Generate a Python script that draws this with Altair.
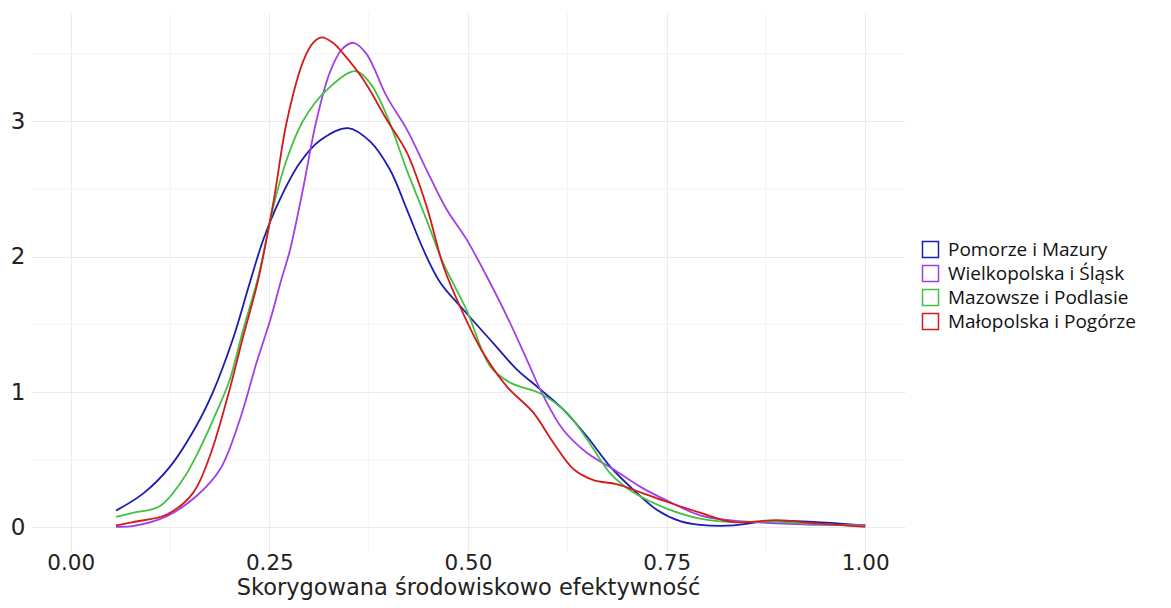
import altair as alt
import pandas as pd

regions = ["Pomorze i Mazury", "Wielkopolska i Śląsk", "Mazowsze i Podlasie", "Małopolska i Pogórze"]
colors = ["#1c1cb0", "#a040e6", "#45c045", "#d41a1a"]

pom_x = [0.057, 0.091, 0.125, 0.158, 0.179, 0.204, 0.225, 0.242, 0.263, 0.288, 0.314, 0.349, 0.377, 0.402,
         0.423, 0.444, 0.465, 0.494, 0.532, 0.561, 0.591, 0.620, 0.650, 0.679, 0.708, 0.738, 0.767, 0.792,
         0.834, 0.876, 0.939, 1.0]
pom_y = [0.125, 0.25, 0.45, 0.75, 1.0, 1.39, 1.80, 2.12, 2.42, 2.69, 2.86, 2.95, 2.85, 2.64,
         2.35, 2.05, 1.81, 1.61, 1.36, 1.17, 1.02, 0.87, 0.67, 0.45, 0.28, 0.13, 0.047, 0.02,
         0.015, 0.046, 0.04, 0.015]

wlk_x = [0.057, 0.078, 0.121, 0.158, 0.188, 0.213, 0.234, 0.251, 0.265, 0.276, 0.293, 0.309, 0.326, 0.341,
         0.356, 0.372, 0.398, 0.423, 0.448, 0.473, 0.498, 0.524, 0.549, 0.574, 0.595, 0.620, 0.650, 0.683,
         0.717, 0.750, 0.792, 0.834, 0.876, 0.939, 1.0]
wlk_y = [0.005, 0.01, 0.084, 0.231, 0.43, 0.80, 1.22, 1.53, 1.83, 2.05, 2.52, 3.00, 3.36, 3.53,
         3.58, 3.50, 3.18, 2.94, 2.64, 2.35, 2.13, 1.85, 1.56, 1.24, 0.97, 0.72, 0.55, 0.43,
         0.30, 0.20, 0.09, 0.05, 0.035, 0.02, 0.02]

maz_x = [0.057, 0.078, 0.112, 0.141, 0.162, 0.183, 0.200, 0.217, 0.236, 0.255, 0.272, 0.293, 0.322, 0.358,
         0.377, 0.398, 0.423, 0.448, 0.469, 0.498, 0.528, 0.553, 0.591, 0.624, 0.650, 0.679, 0.708, 0.750,
         0.792, 0.834, 0.876, 0.939, 1.0]
maz_y = [0.079, 0.108, 0.157, 0.354, 0.576, 0.846, 1.09, 1.46, 1.85, 2.37, 2.72, 3.01, 3.23, 3.37,
         3.28, 3.04, 2.64, 2.27, 1.95, 1.61, 1.19, 1.07, 0.99, 0.85, 0.65, 0.40, 0.26, 0.14,
         0.066, 0.04, 0.045, 0.025, 0.01]

mal_x = [0.057, 0.078, 0.121, 0.154, 0.175, 0.200, 0.217, 0.236, 0.255, 0.272, 0.293, 0.305, 0.316, 0.330,
         0.343, 0.368, 0.398, 0.423, 0.448, 0.469, 0.494, 0.519, 0.549, 0.582, 0.607, 0.633, 0.658, 0.687,
         0.717, 0.750, 0.792, 0.834, 0.889, 0.939, 1.0]
mal_y = [0.015, 0.04, 0.096, 0.256, 0.526, 1.02, 1.41, 1.83, 2.40, 3.0, 3.45, 3.58, 3.62, 3.58,
         3.50, 3.31, 3.01, 2.77, 2.37, 1.93, 1.58, 1.29, 1.04, 0.85, 0.63, 0.43, 0.35, 0.32,
         0.26, 0.19, 0.11, 0.04, 0.054, 0.03, 0.005]

x_ticks = [0.0, 0.25, 0.5, 0.75, 1.0]
y_ticks = [0, 1, 2, 3]
x_minor = [0.125, 0.375, 0.625, 0.875]
y_minor = [0.5, 1.5, 2.5, 3.5]

series = [(pom_x, pom_y), (wlk_x, wlk_y), (maz_x, maz_y), (mal_x, mal_y)]
rows = []
for name, (xs, ys) in zip(regions, series):
    for xv, yv in zip(xs, ys):
        rows.append({"x": xv, "y": yv, "region": name})
df = pd.DataFrame(rows)

xscale = alt.Scale(domain=[-0.05, 1.05], nice=False, zero=False)
yscale = alt.Scale(domain=[-0.181, 3.80], nice=False, zero=False)

x_axis = alt.Axis(values=x_ticks, format=".2f", title="Skorygowana środowiskowo efektywność",
                  labelPadding=17, labelBaseline="alphabetic", labelFontSize=21.5,
                  titleY=42, titleBaseline="alphabetic", titleFontSize=22.5,
                  titleFontWeight="normal")
y_axis = alt.Axis(values=y_ticks, format="d", title=None, labelPadding=6)

minor_x = alt.Chart(pd.DataFrame({"x": x_minor})).mark_rule(
    color="#f0f0f0", strokeWidth=0.8
).encode(x=alt.X("x:Q", scale=xscale, axis=x_axis))

minor_y = alt.Chart(pd.DataFrame({"y": y_minor})).mark_rule(
    color="#f0f0f0", strokeWidth=0.8
).encode(y=alt.Y("y:Q", scale=yscale, axis=y_axis))

lines = alt.Chart(df).mark_line(strokeWidth=1.8, interpolate="catmull-rom").encode(
    x=alt.X("x:Q", scale=xscale, axis=x_axis),
    y=alt.Y("y:Q", scale=yscale, axis=y_axis),
    color=alt.Color("region:N",
                    scale=alt.Scale(domain=regions, range=colors),
                    legend=alt.Legend(title=None, orient="none", legendX=890, legendY=227,
                                      symbolType="square", symbolSize=256,
                                      symbolFillColor="white", symbolStrokeWidth=1.5,
                                      labelFont="Open Sans", labelFontSize=19, labelLimit=400,
                                      labelColor="#111111", rowPadding=1, labelOffset=8,
                                      padding=0)),
    detail="region:N",
)

chart = alt.layer(minor_x, minor_y, lines).properties(
    width=874, height=539,
    autosize=alt.AutoSizeParams(type="none"),
    padding={"left": 23, "top": 5, "right": 258, "bottom": 48},
).configure_view(stroke=None).configure_axis(
    domain=False, ticks=False, grid=True, gridColor="#ebebeb", gridWidth=1,
    labelFont="DejaVu Sans", labelFontSize=23, labelColor="#222222",
    titleFont="DejaVu Sans", titleColor="#222222",
)

chart.save("out.html", embed_options={"renderer": "svg", "actions": False})
